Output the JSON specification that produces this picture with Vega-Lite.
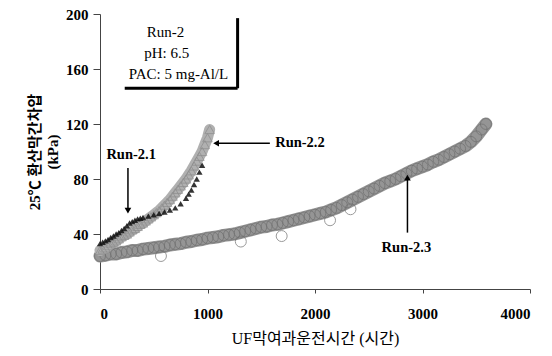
{
  "$schema": "https://vega.github.io/schema/vega-lite/v6.json",
  "width": 430,
  "height": 275,
  "autosize": {"type": "none"},
  "padding": {"left": 100, "top": 14, "right": 22, "bottom": 67},
  "background": "white",
  "config": {
    "view": {"stroke": null},
    "font": "Liberation Serif"
  },
  "datasets": {
    "runs": [
      {"run": "Run-2.3", "t": 0, "p": 24, "o": 0},
      {"run": "Run-2.3", "t": 50, "p": 24.5, "o": 0},
      {"run": "Run-2.3", "t": 100, "p": 25.5, "o": 0},
      {"run": "Run-2.3", "t": 150, "p": 25.5, "o": 0},
      {"run": "Run-2.3", "t": 200, "p": 26.5, "o": 0},
      {"run": "Run-2.3", "t": 250, "p": 27, "o": 0},
      {"run": "Run-2.3", "t": 300, "p": 28, "o": 0},
      {"run": "Run-2.3", "t": 350, "p": 28, "o": 0},
      {"run": "Run-2.3", "t": 400, "p": 29, "o": 0},
      {"run": "Run-2.3", "t": 450, "p": 29.5, "o": 0},
      {"run": "Run-2.3", "t": 500, "p": 30, "o": 0},
      {"run": "Run-2.3", "t": 550, "p": 30.5, "o": 0},
      {"run": "Run-2.3", "t": 600, "p": 31, "o": 0},
      {"run": "Run-2.3", "t": 650, "p": 32, "o": 0},
      {"run": "Run-2.3", "t": 700, "p": 32.5, "o": 0},
      {"run": "Run-2.3", "t": 750, "p": 33, "o": 0},
      {"run": "Run-2.3", "t": 800, "p": 34, "o": 0},
      {"run": "Run-2.3", "t": 850, "p": 34.5, "o": 0},
      {"run": "Run-2.3", "t": 900, "p": 35.5, "o": 0},
      {"run": "Run-2.3", "t": 950, "p": 36, "o": 0},
      {"run": "Run-2.3", "t": 1000, "p": 37, "o": 0},
      {"run": "Run-2.3", "t": 1050, "p": 37.5, "o": 0},
      {"run": "Run-2.3", "t": 1100, "p": 38, "o": 0},
      {"run": "Run-2.3", "t": 1150, "p": 39, "o": 0},
      {"run": "Run-2.3", "t": 1200, "p": 39.5, "o": 0},
      {"run": "Run-2.3", "t": 1250, "p": 40, "o": 0},
      {"run": "Run-2.3", "t": 1300, "p": 41, "o": 0},
      {"run": "Run-2.3", "t": 1350, "p": 42, "o": 0},
      {"run": "Run-2.3", "t": 1400, "p": 43, "o": 0},
      {"run": "Run-2.3", "t": 1450, "p": 44, "o": 0},
      {"run": "Run-2.3", "t": 1500, "p": 45, "o": 0},
      {"run": "Run-2.3", "t": 1550, "p": 45.5, "o": 0},
      {"run": "Run-2.3", "t": 1600, "p": 46.5, "o": 0},
      {"run": "Run-2.3", "t": 1650, "p": 47, "o": 0},
      {"run": "Run-2.3", "t": 1700, "p": 48, "o": 0},
      {"run": "Run-2.3", "t": 1750, "p": 49, "o": 0},
      {"run": "Run-2.3", "t": 1800, "p": 50, "o": 0},
      {"run": "Run-2.3", "t": 1850, "p": 51, "o": 0},
      {"run": "Run-2.3", "t": 1900, "p": 52, "o": 0},
      {"run": "Run-2.3", "t": 1950, "p": 53, "o": 0},
      {"run": "Run-2.3", "t": 2000, "p": 54, "o": 0},
      {"run": "Run-2.3", "t": 2050, "p": 55, "o": 0},
      {"run": "Run-2.3", "t": 2100, "p": 56, "o": 0},
      {"run": "Run-2.3", "t": 2150, "p": 57.5, "o": 0},
      {"run": "Run-2.3", "t": 2200, "p": 59, "o": 0},
      {"run": "Run-2.3", "t": 2250, "p": 61, "o": 0},
      {"run": "Run-2.3", "t": 2300, "p": 63, "o": 0},
      {"run": "Run-2.3", "t": 2350, "p": 65, "o": 0},
      {"run": "Run-2.3", "t": 2400, "p": 67, "o": 0},
      {"run": "Run-2.3", "t": 2450, "p": 69, "o": 0},
      {"run": "Run-2.3", "t": 2500, "p": 71, "o": 0},
      {"run": "Run-2.3", "t": 2550, "p": 73, "o": 0},
      {"run": "Run-2.3", "t": 2600, "p": 75, "o": 0},
      {"run": "Run-2.3", "t": 2650, "p": 77, "o": 0},
      {"run": "Run-2.3", "t": 2700, "p": 78.5, "o": 0},
      {"run": "Run-2.3", "t": 2750, "p": 80, "o": 0},
      {"run": "Run-2.3", "t": 2800, "p": 82, "o": 0},
      {"run": "Run-2.3", "t": 2850, "p": 84, "o": 0},
      {"run": "Run-2.3", "t": 2900, "p": 86, "o": 0},
      {"run": "Run-2.3", "t": 2950, "p": 87.5, "o": 0},
      {"run": "Run-2.3", "t": 3000, "p": 89, "o": 0},
      {"run": "Run-2.3", "t": 3050, "p": 90.5, "o": 0},
      {"run": "Run-2.3", "t": 3100, "p": 92.5, "o": 0},
      {"run": "Run-2.3", "t": 3150, "p": 94, "o": 0},
      {"run": "Run-2.3", "t": 3200, "p": 96, "o": 0},
      {"run": "Run-2.3", "t": 3250, "p": 98, "o": 0},
      {"run": "Run-2.3", "t": 3300, "p": 100, "o": 0},
      {"run": "Run-2.3", "t": 3350, "p": 102, "o": 0},
      {"run": "Run-2.3", "t": 3400, "p": 104, "o": 0},
      {"run": "Run-2.3", "t": 3450, "p": 107, "o": 0},
      {"run": "Run-2.3", "t": 3500, "p": 111, "o": 0},
      {"run": "Run-2.3", "t": 3550, "p": 116, "o": 0},
      {"run": "Run-2.3", "t": 3590, "p": 120, "o": 0},
      {"run": "Run-2.3", "t": 567, "p": 24, "o": 1},
      {"run": "Run-2.3", "t": 1310, "p": 34.5, "o": 1},
      {"run": "Run-2.3", "t": 1690, "p": 38.5, "o": 1},
      {"run": "Run-2.3", "t": 2140, "p": 50, "o": 1},
      {"run": "Run-2.3", "t": 2330, "p": 58, "o": 1},
      {"run": "Run-2.2", "t": 0, "p": 28, "o": 0},
      {"run": "Run-2.2", "t": 25, "p": 29, "o": 0},
      {"run": "Run-2.2", "t": 50, "p": 30, "o": 0},
      {"run": "Run-2.2", "t": 75, "p": 31.5, "o": 0},
      {"run": "Run-2.2", "t": 100, "p": 33, "o": 0},
      {"run": "Run-2.2", "t": 125, "p": 34, "o": 0},
      {"run": "Run-2.2", "t": 150, "p": 35, "o": 0},
      {"run": "Run-2.2", "t": 175, "p": 36.5, "o": 0},
      {"run": "Run-2.2", "t": 200, "p": 38, "o": 0},
      {"run": "Run-2.2", "t": 225, "p": 39, "o": 0},
      {"run": "Run-2.2", "t": 250, "p": 40, "o": 0},
      {"run": "Run-2.2", "t": 275, "p": 41.5, "o": 0},
      {"run": "Run-2.2", "t": 300, "p": 43, "o": 0},
      {"run": "Run-2.2", "t": 325, "p": 44, "o": 0},
      {"run": "Run-2.2", "t": 350, "p": 45.5, "o": 0},
      {"run": "Run-2.2", "t": 375, "p": 47, "o": 0},
      {"run": "Run-2.2", "t": 400, "p": 48, "o": 0},
      {"run": "Run-2.2", "t": 425, "p": 49.5, "o": 0},
      {"run": "Run-2.2", "t": 450, "p": 51, "o": 0},
      {"run": "Run-2.2", "t": 475, "p": 52.5, "o": 0},
      {"run": "Run-2.2", "t": 500, "p": 54, "o": 0},
      {"run": "Run-2.2", "t": 525, "p": 55.5, "o": 0},
      {"run": "Run-2.2", "t": 550, "p": 57, "o": 0},
      {"run": "Run-2.2", "t": 575, "p": 59, "o": 0},
      {"run": "Run-2.2", "t": 600, "p": 61, "o": 0},
      {"run": "Run-2.2", "t": 625, "p": 63, "o": 0},
      {"run": "Run-2.2", "t": 650, "p": 65, "o": 0},
      {"run": "Run-2.2", "t": 675, "p": 67.5, "o": 0},
      {"run": "Run-2.2", "t": 700, "p": 70, "o": 0},
      {"run": "Run-2.2", "t": 725, "p": 72.5, "o": 0},
      {"run": "Run-2.2", "t": 750, "p": 75, "o": 0},
      {"run": "Run-2.2", "t": 775, "p": 77.5, "o": 0},
      {"run": "Run-2.2", "t": 800, "p": 80, "o": 0},
      {"run": "Run-2.2", "t": 825, "p": 83, "o": 0},
      {"run": "Run-2.2", "t": 850, "p": 86, "o": 0},
      {"run": "Run-2.2", "t": 875, "p": 89.5, "o": 0},
      {"run": "Run-2.2", "t": 900, "p": 93, "o": 0},
      {"run": "Run-2.2", "t": 925, "p": 96.5, "o": 0},
      {"run": "Run-2.2", "t": 950, "p": 100, "o": 0},
      {"run": "Run-2.2", "t": 975, "p": 105, "o": 0},
      {"run": "Run-2.2", "t": 1000, "p": 110, "o": 0},
      {"run": "Run-2.2", "t": 1020, "p": 116, "o": 0},
      {"run": "Run-2.1", "t": 0, "p": 33, "o": 0},
      {"run": "Run-2.1", "t": 25, "p": 34, "o": 0},
      {"run": "Run-2.1", "t": 50, "p": 35, "o": 0},
      {"run": "Run-2.1", "t": 75, "p": 36, "o": 0},
      {"run": "Run-2.1", "t": 100, "p": 37.5, "o": 0},
      {"run": "Run-2.1", "t": 125, "p": 38.5, "o": 0},
      {"run": "Run-2.1", "t": 150, "p": 40, "o": 0},
      {"run": "Run-2.1", "t": 175, "p": 41, "o": 0},
      {"run": "Run-2.1", "t": 200, "p": 42.5, "o": 0},
      {"run": "Run-2.1", "t": 225, "p": 44, "o": 0},
      {"run": "Run-2.1", "t": 250, "p": 46, "o": 0},
      {"run": "Run-2.1", "t": 275, "p": 48, "o": 0},
      {"run": "Run-2.1", "t": 300, "p": 49, "o": 0},
      {"run": "Run-2.1", "t": 325, "p": 50, "o": 0},
      {"run": "Run-2.1", "t": 350, "p": 51, "o": 0},
      {"run": "Run-2.1", "t": 375, "p": 51.5, "o": 0},
      {"run": "Run-2.1", "t": 400, "p": 52, "o": 0},
      {"run": "Run-2.1", "t": 450, "p": 53, "o": 0},
      {"run": "Run-2.1", "t": 500, "p": 54, "o": 0},
      {"run": "Run-2.1", "t": 550, "p": 55, "o": 0},
      {"run": "Run-2.1", "t": 600, "p": 56, "o": 0},
      {"run": "Run-2.1", "t": 650, "p": 57.5, "o": 0},
      {"run": "Run-2.1", "t": 700, "p": 59, "o": 0},
      {"run": "Run-2.1", "t": 750, "p": 62, "o": 0},
      {"run": "Run-2.1", "t": 800, "p": 66, "o": 0},
      {"run": "Run-2.1", "t": 825, "p": 69, "o": 0},
      {"run": "Run-2.1", "t": 850, "p": 72, "o": 0},
      {"run": "Run-2.1", "t": 875, "p": 76, "o": 0},
      {"run": "Run-2.1", "t": 900, "p": 80, "o": 0},
      {"run": "Run-2.1", "t": 925, "p": 85, "o": 0},
      {"run": "Run-2.1", "t": 950, "p": 90, "o": 0}
    ],
    "arrows": [
      {"t": 260, "p": 88, "t2": 260, "p2": 57, "k": "a"},
      {"t": 1580, "p": 106, "t2": 1090, "p2": 106, "k": "a"},
      {"t": 2860, "p": 41, "t2": 2860, "p2": 80, "k": "a"},
      {"t": 1280, "p": 197, "t2": 1280, "p2": 146, "k": "b"},
      {"t": 230, "p": 146, "t2": 1280, "p2": 146, "k": "b"}
    ],
    "heads": [
      {"t": 260, "p": 57, "shape": "triangle-down"},
      {"t": 1080, "p": 106, "shape": "triangle-left"},
      {"t": 2860, "p": 81, "shape": "triangle-up"}
    ],
    "labels": [
      {"t": 290, "p": 97.5, "text": "Run-2.1", "w": "bold"},
      {"t": 1860, "p": 106, "text": "Run-2.2", "w": "bold"},
      {"t": 2850, "p": 30, "text": "Run-2.3", "w": "bold"},
      {"t": 610, "p": 187, "text": "Run-2", "w": "normal"},
      {"t": 620, "p": 172, "text": "pH: 6.5", "w": "normal"},
      {"t": 730, "p": 156.5, "text": "PAC: 5 mg-Al/L", "w": "normal"}
    ]
  },
  "encoding": {
    "x": {
      "field": "t", "type": "quantitative",
      "scale": {"domain": [0, 4000], "nice": false},
      "axis": {
        "grid": false,
        "values": [0, 1000, 2000, 3000, 4000],
        "format": "d",
        "domainColor": "#444", "tickColor": "#444",
        "tickSize": 4, "labelPadding": 13,
        "labelFont": "Liberation Serif", "labelFontWeight": "bold", "labelFontSize": 15, "labelColor": "#000",
        "title": "UF막여과운전시간 (시간)",
        "titleFont": "Liberation Serif, Noto Sans CJK KR",
        "titleColor": "#000",
        "titleFontSize": 16, "titleFontWeight": "normal", "titlePadding": 9
      }
    },
    "y": {
      "field": "p", "type": "quantitative",
      "scale": {"domain": [0, 200], "nice": false},
      "axis": {
        "grid": false,
        "values": [0, 40, 80, 120, 160, 200],
        "format": "d",
        "domainColor": "#444", "tickColor": "#444",
        "tickSize": 7, "labelPadding": 5,
        "labelFont": "Liberation Serif", "labelFontWeight": "bold", "labelFontSize": 15, "labelColor": "#000",
        "title": ["25℃ 환산막간차압", "(kPa)"],
        "titleFont": "Liberation Serif, Noto Sans CJK KR",
        "titleColor": "#000",
        "titleFontSize": 15, "titleFontWeight": "bold",
        "titleLineHeight": 18, "titlePadding": 5
      }
    }
  },
  "layer": [
    {
      "data": {"name": "runs"},
      "transform": [{"filter": "datum.run == 'Run-2.3' && datum.o == 0"}],
      "mark": {"type": "line", "color": "#959595", "strokeWidth": 13, "strokeCap": "round", "strokeJoin": "round"},
      "encoding": {}
    },
    {
      "data": {"name": "runs"},
      "transform": [{"filter": "datum.run == 'Run-2.3'"}],
      "mark": {"type": "point", "shape": "circle", "filled": false, "color": "#707070", "size": 120, "strokeWidth": 1},
      "encoding": {}
    },
    {
      "data": {"name": "runs"},
      "transform": [{"filter": "datum.run == 'Run-2.2'"}],
      "mark": {"type": "line", "color": "#b0b0b0", "strokeWidth": 11, "strokeCap": "round"},
      "encoding": {}
    },
    {
      "data": {"name": "runs"},
      "transform": [{"filter": "datum.run == 'Run-2.2'"}],
      "mark": {"type": "point", "shape": "triangle-up", "filled": false, "color": "#8c8c8c", "size": 90, "strokeWidth": 1},
      "encoding": {}
    },
    {
      "data": {"name": "runs"},
      "transform": [{"filter": "datum.run == 'Run-2.1'"}],
      "mark": {"type": "point", "shape": "triangle-up", "filled": true, "color": "#111111", "size": 40, "opacity": 0.85},
      "encoding": {}
    },
    {
      "data": {"name": "arrows"},
      "transform": [{"filter": "datum.k == 'a'"}],
      "mark": {"type": "rule", "color": "#000", "strokeWidth": 1.5},
      "encoding": {
        "x2": {"field": "t2"},
        "y2": {"field": "p2"}
      }
    },
    {
      "data": {"name": "arrows"},
      "transform": [{"filter": "datum.k == 'b'"}],
      "mark": {"type": "rule", "color": "#000", "strokeWidth": 3},
      "encoding": {
        "x2": {"field": "t2"},
        "y2": {"field": "p2"}
      }
    },
    {
      "data": {"name": "heads"},
      "mark": {"type": "point", "filled": true, "color": "#000", "size": 45, "opacity": 1},
      "encoding": {
        "shape": {"field": "shape", "type": "nominal", "scale": null}
      }
    },
    {
      "data": {"name": "labels"},
      "transform": [{"filter": "datum.w == 'bold'"}],
      "mark": {"type": "text", "font": "Liberation Serif", "fontSize": 14.5, "fontWeight": "bold", "color": "#000"},
      "encoding": {
        "text": {"field": "text"}
      }
    },
    {
      "data": {"name": "labels"},
      "transform": [{"filter": "datum.w == 'normal'"}],
      "mark": {"type": "text", "font": "Liberation Serif", "fontSize": 15, "color": "#000"},
      "encoding": {
        "text": {"field": "text"}
      }
    }
  ]
}
